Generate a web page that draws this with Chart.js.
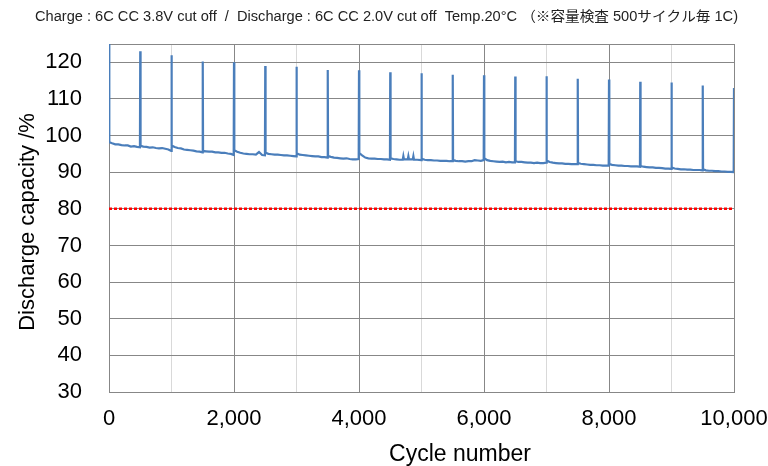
<!DOCTYPE html>
<html>
<head>
<meta charset="utf-8">
<script src="https://cdn.jsdelivr.net/npm/chart.js@4.4.1/dist/chart.umd.min.js"></script>
<style>
html,body{margin:0;padding:0;background:#fff;}
#wrap{width:768px;height:466px;}
</style>
</head>
<body>
<div id="wrap"><canvas id="c" width="768" height="466"></canvas></div>
<script>
// ---- Data ----
const chartTitle = "Charge : 6C CC 3.8V cut off  /  Discharge : 6C CC 2.0V cut off  Temp.20°C （※容量検査 500サイクル毎 1C)";
const yTitle = "Discharge capacity /%";
const xTitle = "Cycle number";

// 1C capacity check every 500 cycles (spikes)
const checkCycles   = [0, 500, 1000, 1500, 2000, 2500, 3000, 3500, 4000, 4500, 5000, 5500, 6000, 6500, 7000, 7500, 8000, 8500, 9000, 9500, 10000];
const checkCapacity = [125.5, 123.0, 121.9, 120.2, 120.0, 119.0, 118.8, 117.9, 117.8, 117.3, 117.0, 116.6, 116.5, 116.1, 116.2, 115.5, 115.3, 114.7, 114.5, 113.7, 113.0];

// 6C cycling baseline
const baseCycles = [
  5, 50, 100, 150, 200, 250, 300, 350, 400, 450, 495,
  505, 550, 600, 650, 700, 750, 800, 850, 900, 950, 995,
  1005, 1050, 1100, 1150, 1200, 1250, 1300, 1350, 1400, 1450, 1495,
  1505, 1550, 1600, 1650, 1700, 1750, 1800, 1850, 1900, 1950, 1995,
  2005, 2050, 2100, 2150, 2200, 2250, 2300, 2350, 2400, 2450, 2495,
  2505, 2550, 2600, 2650, 2700, 2750, 2800, 2850, 2900, 2950, 2995,
  3005, 3050, 3100, 3150, 3200, 3250, 3300, 3350, 3400, 3450, 3495,
  3505, 3550, 3600, 3650, 3700, 3750, 3800, 3850, 3900, 3950, 3995,
  4005, 4050, 4100, 4150, 4200, 4250, 4300, 4350, 4400, 4450, 4495,
  4505, 4550, 4600, 4650, 4700, 4710, 4720, 4780, 4790, 4800, 4860, 4870, 4880, 4930, 4995,
  5005, 5050, 5100, 5150, 5200, 5250, 5300, 5350, 5400, 5450, 5495,
  5505, 5550, 5600, 5650, 5700, 5750, 5800, 5850, 5900, 5950, 5995,
  6005, 6050, 6100, 6150, 6200, 6250, 6300, 6350, 6400, 6450, 6495,
  6505, 6550, 6600, 6650, 6700, 6750, 6800, 6850, 6900, 6950, 6995,
  7005, 7050, 7100, 7150, 7200, 7250, 7300, 7350, 7400, 7450, 7495,
  7505, 7550, 7600, 7650, 7700, 7750, 7800, 7850, 7900, 7950, 7995,
  8005, 8050, 8100, 8150, 8200, 8250, 8300, 8350, 8400, 8450, 8495,
  8505, 8550, 8600, 8650, 8700, 8750, 8800, 8850, 8900, 8950, 8995,
  9005, 9050, 9100, 9150, 9200, 9250, 9300, 9350, 9400, 9450, 9495,
  9505, 9550, 9600, 9650, 9700, 9750, 9800, 9850, 9900, 9950, 9995
];
const baseCapacity = [
  98.2, 97.9, 97.6, 97.6, 97.4, 97.3, 97.3, 97.0, 97.1, 96.9, 96.8,
  97.2, 97.0, 96.9, 96.7, 96.8, 96.6, 96.5, 96.6, 96.4, 96.2, 95.8,
  97.3, 96.9, 96.6, 96.5, 96.2, 96.1, 96.0, 95.9, 95.7, 95.6, 95.4,
  95.8, 95.7, 95.6, 95.6, 95.4, 95.4, 95.3, 95.3, 95.1, 95.0, 94.7,
  96.0, 95.6, 95.3, 95.1, 95.0, 94.9, 94.9, 94.8, 95.5, 94.7, 94.6,
  95.3, 95.0, 94.9, 94.8, 94.8, 94.7, 94.6, 94.6, 94.5, 94.4, 94.3,
  95.2, 94.8, 94.7, 94.6, 94.5, 94.4, 94.3, 94.3, 94.1, 94.1, 94.0,
  94.4, 94.2, 94.0, 93.9, 93.8, 93.7, 93.8, 93.6, 93.5, 93.5, 93.6,
  95.2, 94.6, 94.0, 93.8, 93.7, 93.7, 93.6, 93.6, 93.5, 93.5, 93.4,
  93.8, 93.6, 93.5, 93.4, 93.4, 94.4, 93.5, 93.5, 94.4, 93.5, 93.5, 94.4, 93.4, 93.4, 93.3,
  93.7, 93.4, 93.3, 93.3, 93.2, 93.2, 93.1, 93.1, 93.1, 93.0, 93.0,
  93.3, 93.1, 93.0, 93.0, 92.9, 93.0, 93.0, 93.3, 93.2, 93.1, 93.3,
  93.8, 93.3, 93.1, 93.0, 92.9, 92.8, 92.9, 92.7, 92.8, 92.7, 92.7,
  93.0, 92.8, 92.8, 92.7, 92.6, 92.6, 92.5, 92.6, 92.5, 92.5, 92.6,
  93.2, 92.8, 92.6, 92.5, 92.4, 92.4, 92.3, 92.3, 92.2, 92.2, 92.2,
  92.5, 92.3, 92.2, 92.1, 92.0, 92.0, 91.9, 91.9, 91.8, 91.8, 91.8,
  92.2, 92.0, 91.9, 91.8, 91.8, 91.7, 91.7, 91.6, 91.6, 91.6, 91.5,
  91.7, 91.5, 91.4, 91.3, 91.3, 91.2, 91.2, 91.1, 91.0, 91.0, 90.9,
  91.3, 91.0, 90.9, 90.8, 90.8, 90.7, 90.7, 90.6, 90.6, 90.6, 90.5,
  90.8, 90.5, 90.4, 90.4, 90.3, 90.3, 90.2, 90.2, 90.1, 90.1, 90.0
];

// 80% reference line
const limitCycles = [0, 10000];
const limitCapacity = [80, 80];

const yTicks = [30, 40, 50, 60, 70, 80, 90, 100, 110, 120, 125];

// ---- Build datasets from the arrays ----
const seriesPoints = baseCycles.map((c, i) => ({x: c, y: baseCapacity[i]}))
  .concat(checkCycles.map((c, i) => ({x: c, y: checkCapacity[i]})))
  .sort((a, b) => a.x - b.x);
const limitPoints = limitCycles.map((c, i) => ({x: c, y: limitCapacity[i]}));

const FONT = "'Liberation Sans', Arial, sans-serif";

const textPlugin = {
  id: 'texts',
  afterDraw(chart) {
    const ctx = chart.ctx;
    ctx.save();
    // page title
    ctx.fillStyle = '#222';
    ctx.font = "14px 'Liberation Sans Narrow', 'Liberation Sans', 'Noto Sans CJK JP', sans-serif";
    ctx.textBaseline = 'middle';
    ctx.textAlign = 'left';
    const w = ctx.measureText(chartTitle).width;
    const target = 703;
    ctx.save();
    ctx.translate(35, 17);
    ctx.scale(target / w, 1);
    ctx.fillText(chartTitle, 0, 0);
    ctx.restore();
    // y title
    ctx.fillStyle = '#000';
    ctx.font = "22px " + FONT;
    ctx.textAlign = 'center';
    ctx.save();
    ctx.translate(28, 222);
    ctx.rotate(-Math.PI / 2);
    ctx.fillText(yTitle, 0, 0);
    ctx.restore();
    // x title
    ctx.font = "23px " + FONT;
    ctx.fillText(xTitle, 460, 455);
    ctx.restore();
  }
};

new Chart(document.getElementById('c'), {
  type: 'line',
  data: {
    datasets: [
      {
        data: seriesPoints,
        borderColor: '#4a7ebb',
        borderWidth: 2.2,
        pointRadius: 0,
        tension: 0,
        clip: 0,
        order: 1
      },
      {
        data: limitPoints,
        borderColor: '#ff0000',
        borderWidth: 2.5,
        borderDash: [3, 2],
        pointRadius: 0,
        tension: 0,
        order: 2
      }
    ]
  },
  plugins: [textPlugin],
  options: {
    responsive: false,
    animation: false,
    devicePixelRatio: 1,
    layout: {padding: {top: 44, right: 34, left: 0, bottom: 0}},
    plugins: {legend: {display: false}, tooltip: {enabled: false}, title: {display: false}},
    scales: {
      x: {
        type: 'linear',
        min: 0, max: 10000,
        afterFit: s => { s.height = 74; s.paddingRight = 0; s.paddingLeft = 0; },
        grid: {
          drawTicks: false,
          color: c => (c.tick && c.tick.value % 2000 === 0) ? '#878787' : '#d9d9d9',
          lineWidth: 1
        },
        border: {color: '#878787', width: 1},
        ticks: {
          stepSize: 1000,
          autoSkip: false,
          maxRotation: 0,
          padding: 14,
          color: '#000',
          font: {family: FONT, size: 22},
          callback: v => (v % 2000 === 0) ? v.toLocaleString('en-US') : ''
        }
      },
      y: {
        type: 'linear',
        min: 30, max: 125,
        afterFit: s => { s.width = 109; s.paddingTop = 0; s.paddingBottom = 0; },
        afterBuildTicks: s => { s.ticks = yTicks.map(v => ({value: v})); },
        grid: {drawTicks: false, color: '#878787', lineWidth: 1},
        border: {color: '#878787', width: 1},
        ticks: {
          padding: 27,
          color: '#000',
          font: {family: FONT, size: 22},
          callback: v => (v === 125 ? '' : v)
        }
      }
    }
  }
});
</script>
</body>
</html>
